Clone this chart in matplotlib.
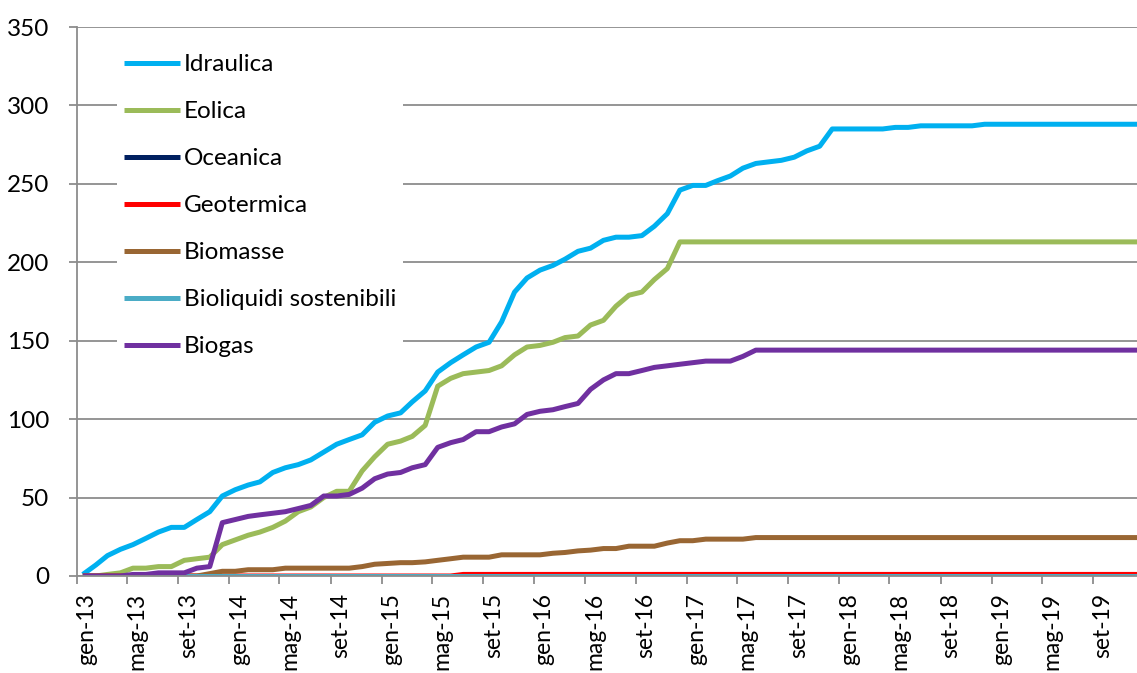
import numpy as np
import pandas as pd
import matplotlib.pyplot as plt
import matplotlib.transforms as mtransforms

plt.rcParams['font.family'] = ['Lato', 'DejaVu Sans']

# dati mensili gen-13 ... dic-19 (punto a metà mese)
dates = pd.date_range('2013-01-01', periods=84, freq='MS') + pd.Timedelta(days=14)

idraulica = [1, 7, 13, 17, 20, 24, 28, 31, 31, 36,
             41, 51, 55, 58, 60, 66, 69, 71, 74, 79,
             84, 87, 90, 98, 102, 104, 111, 118, 130, 136,
             141, 146, 149, 162, 181, 190, 195, 198, 202, 207,
             209, 214, 216, 216, 217, 223, 231, 246, 249, 249,
             252, 255, 260, 263, 264, 265, 267, 271, 274, 285,
             285, 285, 285, 285, 286, 286, 287, 287, 287, 287,
             287, 288, 288, 288, 288, 288, 288, 288, 288, 288,
             288, 288, 288, 288]
eolica = [0, 0, 1, 2, 5, 5, 6, 6, 10, 11,
          12, 20, 23, 26, 28, 31, 35, 41, 44, 50,
          54, 54, 67, 76, 84, 86, 89, 96, 121, 126,
          129, 130, 131, 134, 141, 146, 147, 149, 152, 153,
          160, 163, 172, 179, 181, 189, 196, 213, 213, 213,
          213, 213, 213, 213, 213, 213, 213, 213, 213, 213,
          213, 213, 213, 213, 213, 213, 213, 213, 213, 213,
          213, 213, 213, 213, 213, 213, 213, 213, 213, 213,
          213, 213, 213, 213]
oceanica = [0] * 84
geotermica = [0] * 30 + [1] * 54
biomasse = [0, 0, 0, 0, 0, 0, 0, 0, 0, 0,
            1.5, 3, 3, 4, 4, 4, 5, 5, 5, 5,
            5, 5, 6, 7.5, 8, 8.5, 8.5, 9, 10, 11,
            12, 12, 12, 13.5, 13.5, 13.5, 13.5, 14.5, 15, 16,
            16.5, 17.5, 17.5, 19, 19, 19, 21, 22.5, 22.5, 23.5,
            23.5, 23.5, 23.5, 24.5, 24.5, 24.5, 24.5, 24.5, 24.5, 24.5,
            24.5, 24.5, 24.5, 24.5, 24.5, 24.5, 24.5, 24.5, 24.5, 24.5,
            24.5, 24.5, 24.5, 24.5, 24.5, 24.5, 24.5, 24.5, 24.5, 24.5,
            24.5, 24.5, 24.5, 24.5]
bioliquidi = [0] * 84
biogas = [0, 0, 0, 0, 1, 1, 2, 2, 2, 5,
          6, 34, 36, 38, 39, 40, 41, 43, 45, 51,
          51, 52, 56, 62, 65, 66, 69, 71, 82, 85,
          87, 92, 92, 95, 97, 103, 105, 106, 108, 110,
          119, 125, 129, 129, 131, 133, 134, 135, 136, 137,
          137, 137, 140, 144, 144, 144, 144, 144, 144, 144,
          144, 144, 144, 144, 144, 144, 144, 144, 144, 144,
          144, 144, 144, 144, 144, 144, 144, 144, 144, 144,
          144, 144, 144, 144]

names = ['Idraulica', 'Eolica', 'Oceanica', 'Geotermica', 'Biomasse',
         'Bioliquidi sostenibili', 'Biogas']
series = [idraulica, eolica, oceanica, geotermica, biomasse, bioliquidi, biogas]
colors = ['#00B0F0', '#9BBB59', '#002060', '#FF0000', '#996633', '#4BACC6', '#7030A0']

mesi = ['gen', 'feb', 'mar', 'apr', 'mag', 'giu', 'lug', 'ago', 'set', 'ott', 'nov', 'dic']

fig = plt.figure(figsize=(11.37, 6.73), dpi=100)
ax = fig.add_axes([77 / 1137, 1 - 576 / 673, 1060 / 1137, 549 / 673])

for vals, name, c in zip(series, names, colors):
    ax.plot(dates, vals, color=c, lw=3.6, label=name, solid_capstyle='butt')

ax.set_ylim(0, 350)
ax.set_yticks(np.arange(0, 351, 50))
ax.set_xlim(pd.Timestamp('2013-01-01'), dates[-1])
ticks = pd.date_range('2013-01-01', '2019-09-01', freq='4MS')
ax.set_xticks(ticks)
ax.set_xticklabels([f"{mesi[d.month - 1]}-{d:%y}" for d in ticks], rotation=90)

grid_c = '#8C8C8C'
ax.set_axisbelow(True)
ax.yaxis.grid(True, color=grid_c, lw=1.3)
for s in ['top', 'right']:
    ax.spines[s].set_visible(False)
for s in ['left', 'bottom']:
    ax.spines[s].set_color(grid_c)
    ax.spines[s].set_linewidth(1.3)
ax.tick_params(axis='both', colors=grid_c, length=6, width=1.3, labelsize=17.5,
               labelcolor='black')
ax.tick_params(axis='y', pad=14)
ax.tick_params(axis='x', pad=6, labelsize=16.5)

offset = mtransforms.ScaledTranslation(10 / 100, 0, fig.dpi_scale_trans)
for lab in ax.get_xticklabels():
    lab.set_transform(lab.get_transform() + offset)

leg = ax.legend(loc='upper left', bbox_to_anchor=(0.026, 0.986), fontsize=17.5,
                frameon=True, fancybox=False, framealpha=1, edgecolor='none',
                facecolor='white', handlelength=2.3, handletextpad=0.15,
                labelspacing=1.07, borderpad=0.3)

fig.savefig('out.png', dpi=100)
